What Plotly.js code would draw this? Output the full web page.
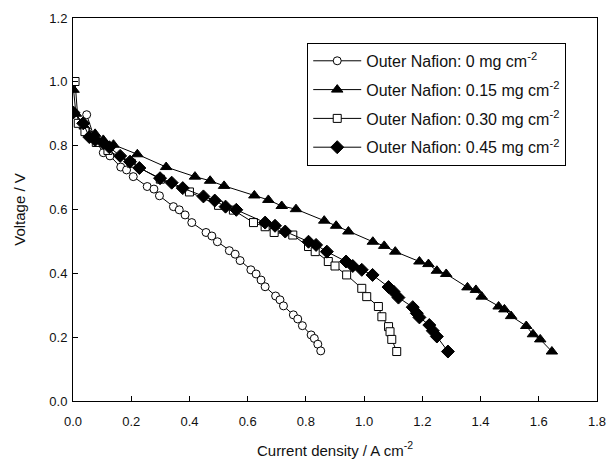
<!DOCTYPE html>
<html>
<head>
<meta charset="utf-8">
<script src="https://cdn.plot.ly/plotly-3.0.1.min.js"></script>
<style>html,body{margin:0;padding:0;background:#fff;}#chart{width:609px;height:461px;}</style>
</head>
<body>
<div id="chart"></div>
<script>
// Outer Nafion: 0 mg cm-2 (open circles)
const x0 = [0.047, 0.075, 0.104, 0.127, 0.164, 0.184, 0.207, 0.255, 0.278, 0.297, 0.345, 0.365, 0.385, 0.408, 0.457, 0.477, 0.496, 0.537, 0.557, 0.574, 0.611, 0.629, 0.646, 0.660, 0.696, 0.711, 0.723, 0.757, 0.772, 0.788, 0.818, 0.829, 0.841, 0.851];
const y0 = [0.897, 0.820, 0.778, 0.768, 0.733, 0.724, 0.703, 0.672, 0.664, 0.643, 0.609, 0.599, 0.583, 0.559, 0.528, 0.517, 0.499, 0.471, 0.460, 0.440, 0.411, 0.398, 0.379, 0.358, 0.329, 0.317, 0.298, 0.270, 0.257, 0.236, 0.207, 0.196, 0.178, 0.157];

// Outer Nafion: 0.15 mg cm-2 (filled triangles)
const x15 = [0.002, 0.010, 0.040, 0.076, 0.104, 0.139, 0.221, 0.320, 0.419, 0.471, 0.519, 0.623, 0.671, 0.717, 0.766, 0.863, 0.904, 0.946, 1.030, 1.069, 1.107, 1.190, 1.221, 1.250, 1.282, 1.355, 1.384, 1.404, 1.462, 1.482, 1.505, 1.557, 1.580, 1.605, 1.645];
const y15 = [0.975, 0.900, 0.860, 0.837, 0.818, 0.803, 0.773, 0.733, 0.703, 0.690, 0.674, 0.644, 0.630, 0.611, 0.601, 0.565, 0.549, 0.531, 0.499, 0.486, 0.468, 0.437, 0.429, 0.408, 0.398, 0.356, 0.348, 0.327, 0.296, 0.287, 0.266, 0.235, 0.209, 0.193, 0.155];

// Outer Nafion: 0.30 mg cm-2 (open squares)
const x30 = [0.007, 0.018, 0.041, 0.080, 0.120, 0.200, 0.300, 0.400, 0.500, 0.551, 0.620, 0.660, 0.691, 0.755, 0.809, 0.832, 0.877, 0.900, 0.940, 0.992, 1.009, 1.049, 1.061, 1.084, 1.089, 1.095, 1.112];
const y30 = [1.001, 0.870, 0.844, 0.810, 0.785, 0.745, 0.695, 0.655, 0.613, 0.598, 0.559, 0.546, 0.528, 0.520, 0.484, 0.468, 0.437, 0.423, 0.395, 0.353, 0.327, 0.296, 0.264, 0.233, 0.217, 0.193, 0.155];

// Outer Nafion: 0.45 mg cm-2 (filled diamonds)
const x45 = [0.001, 0.035, 0.056, 0.076, 0.104, 0.125, 0.162, 0.196, 0.228, 0.299, 0.339, 0.377, 0.448, 0.487, 0.524, 0.561, 0.660, 0.694, 0.729, 0.809, 0.835, 0.872, 0.938, 0.961, 0.992, 1.029, 1.084, 1.101, 1.118, 1.167, 1.181, 1.190, 1.224, 1.236, 1.250, 1.288];
const y45 = [0.904, 0.870, 0.827, 0.818, 0.808, 0.795, 0.768, 0.750, 0.730, 0.698, 0.684, 0.667, 0.641, 0.628, 0.609, 0.599, 0.559, 0.549, 0.531, 0.499, 0.489, 0.468, 0.437, 0.423, 0.411, 0.395, 0.357, 0.343, 0.324, 0.294, 0.275, 0.262, 0.238, 0.220, 0.202, 0.155];

const names = ['Outer Nafion: 0 mg cm<sup>-2</sup>', 'Outer Nafion: 0.15 mg cm<sup>-2</sup>', 'Outer Nafion: 0.30 mg cm<sup>-2</sup>', 'Outer Nafion: 0.45 mg cm<sup>-2</sup>'];
const xTicks = [0.0, 0.2, 0.4, 0.6, 0.8, 1.0, 1.2, 1.4, 1.6, 1.8];
const yTicks = [0.0, 0.2, 0.4, 0.6, 0.8, 1.0, 1.2];

function tr(x, y, name, symbol, filled, size, grp) {
  return {
    x: x, y: y, name: name, type: 'scatter', mode: 'lines+markers', legendgroup: grp,
    line: {color: '#000', width: 1},
    marker: {symbol: symbol, size: size, color: filled ? '#000' : '#fff', line: {color: '#000', width: 1}}
  };
}

const data = [
  tr(x0, y0, names[0], 'circle', false, 8, 'g0'),
  tr(x15, y15, names[1], 'triangle-up', true, 10, 'g1'),
  tr(x30, y30, names[2], 'square', false, 8, 'g2'),
  tr(x45, y45, names[3], 'diamond', true, 10, 'g3')
];

const FF = 'Liberation Sans, Arial, sans-serif';
const font = {family: FF, color: '#111', size: 13};

const layout = {
  width: 609, height: 461,
  margin: {l: 73, r: 12, t: 18, b: 60},
  paper_bgcolor: '#fff', plot_bgcolor: '#fff',
  font: font,
  showlegend: true,
  legend: {
    x: 0.447, y: 0.935, xanchor: 'left', yanchor: 'top',
    bordercolor: '#000', borderwidth: 1, bgcolor: '#fff',
    font: {family: FF, size: 16, color: '#111'},
    traceorder: 'grouped', tracegroupgap: 5, itemwidth: 48
  },
  xaxis: {
    range: [0, 1.8], tickvals: xTicks, ticktext: xTicks.map(v => v.toFixed(1)),
    ticks: 'inside', ticklen: 5, tickcolor: '#000', showgrid: false, zeroline: false,
    showline: true, linecolor: '#000', linewidth: 1, mirror: true,
    ticklabelstandoff: 8,
    title: {text: 'Current density / A cm<sup>-2</sup>', font: {size: 15, family: FF, color: '#111'}, standoff: 17}
  },
  yaxis: {
    range: [0, 1.2], tickvals: yTicks, ticktext: yTicks.map(v => v.toFixed(1)),
    ticks: 'inside', ticklen: 5, tickcolor: '#000', showgrid: false, zeroline: false,
    showline: true, linecolor: '#000', linewidth: 1, mirror: true,
    ticklabelstandoff: 2,
    title: {text: 'Voltage / V', font: {size: 15, family: FF, color: '#111'}, standoff: 20}
  }
};

Plotly.newPlot('chart', data, layout, {displayModeBar: false, staticPlot: true});
</script>
</body>
</html>
